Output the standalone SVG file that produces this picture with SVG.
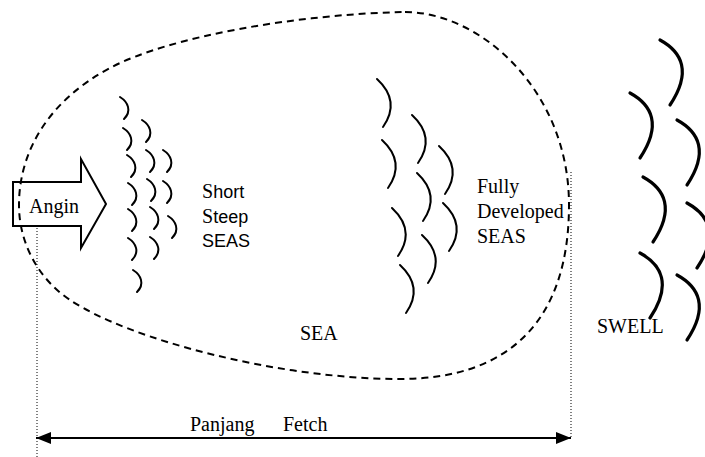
<svg xmlns="http://www.w3.org/2000/svg" xmlns:xlink="http://www.w3.org/1999/xlink" width="705" height="457" viewBox="0 0 705 457">
<style>
  .serif { font-family: "Liberation Serif", "Times New Roman", serif; font-size: 20px; fill: #000; }
  .sans { font-family: "Liberation Sans", Arial, sans-serif; font-size: 18px; }
  .dash { fill: none; stroke: #000; stroke-width: 2; stroke-dasharray: 7 5; }
  .dot { fill: none; stroke: #000; stroke-width: 1; stroke-dasharray: 1 2; }
  .wave-s { fill: none; stroke: #000; stroke-width: 2; stroke-linecap: round; }
  .wave-d { fill: none; stroke: #000; stroke-width: 2; stroke-linecap: round; }
  .wave-w { fill: none; stroke: #000; stroke-width: 3.2; stroke-linecap: round; }
  .line { fill: none; stroke: #000; stroke-width: 2; }
</style>
<defs>
  <path id="ws" d="M0,0 C8,5 12,14 4,22"/>
  <path id="wd" d="M0,0 C13,12 20,28 6,48"/>
  <path id="ww" d="M0,0 C22,12 32,32 10,65"/>
  <marker id="ah" markerWidth="16" markerHeight="12" refX="15" refY="6" orient="auto-start-reverse" markerUnits="userSpaceOnUse">
    <path d="M0,0 L15,6 L0,12 Z" fill="#000"/>
  </marker>
</defs>
<rect width="705" height="457" fill="#fff"/>

<g id="sea-area">
  <path class="dash" d="M405,12 C480,12 569,90 569,205 C569,320 510,379 400,379 C280,379 130,340 70,300 C40,280 19,245 19,205 C19,150 50,100 110,68 C170,36 300,14 405,12 Z"/>
</g>

<g id="angin">
  <polygon class="line" points="13,182 81,182 81,159 106,204 81,248 81,226 13,226"/>
  <text class="serif" x="29" y="213">Angin</text>
</g>

<g id="short-steep-seas" class="wave-s">
  <use href="#ws" x="120" y="97"/>
  <use href="#ws" x="123" y="128"/>
  <use href="#ws" x="127" y="155"/>
  <use href="#ws" x="128" y="183"/>
  <use href="#ws" x="128" y="209"/>
  <use href="#ws" x="128" y="238"/>
  <use href="#ws" x="133" y="270"/>
  <use href="#ws" x="142" y="120"/>
  <use href="#ws" x="146" y="150"/>
  <use href="#ws" x="147" y="179"/>
  <use href="#ws" x="150" y="207"/>
  <use href="#ws" x="150" y="237"/>
  <use href="#ws" x="163" y="150"/>
  <use href="#ws" x="163" y="181"/>
  <use href="#ws" x="168" y="216"/>
</g>
<g id="short-steep-label">
  <text class="serif" x="202" y="198">S<tspan class="sans">hort</tspan></text>
  <text class="serif" x="202" y="223">S<tspan class="sans">teep</tspan></text>
  <text class="sans" x="202" y="247">SEAS</text>
</g>

<g id="fully-developed-seas" class="wave-d">
  <use href="#wd" x="377" y="79"/>
  <use href="#wd" x="382" y="140"/>
  <use href="#wd" x="392" y="208"/>
  <use href="#wd" x="400" y="265"/>
  <use href="#wd" x="412" y="115"/>
  <use href="#wd" x="417" y="173"/>
  <use href="#wd" x="422" y="235"/>
  <use href="#wd" x="439" y="146"/>
  <use href="#wd" x="443" y="203"/>
</g>
<g id="fully-developed-label">
  <text class="serif" x="477" y="193">Fully</text>
  <text class="serif" x="477" y="218">Developed</text>
  <text class="serif" x="477" y="243">SEAS</text>
</g>

<g id="swell" class="wave-w">
  <use href="#ww" x="660" y="40"/>
  <use href="#ww" x="630" y="93"/>
  <use href="#ww" x="677" y="120"/>
  <use href="#ww" x="643" y="177"/>
  <use href="#ww" x="687" y="203"/>
  <use href="#ww" x="640" y="253"/>
  <use href="#ww" x="677" y="275"/>
</g>

<g id="labels">
  <text class="serif" x="300" y="340">SEA</text>
  <text class="serif" x="597" y="333">SWELL</text>
  <text class="serif" x="190" y="431">Panjang</text>
  <text class="serif" x="283" y="431">Fetch</text>
</g>

<g id="connectors">
  <line class="dot" x1="37" y1="228" x2="37" y2="457"/>
  <line class="dot" x1="571" y1="172" x2="571" y2="438"/>
  <line class="line" x1="36" y1="438" x2="571" y2="438" marker-start="url(#ah)" marker-end="url(#ah)"/>
</g>
</svg>
